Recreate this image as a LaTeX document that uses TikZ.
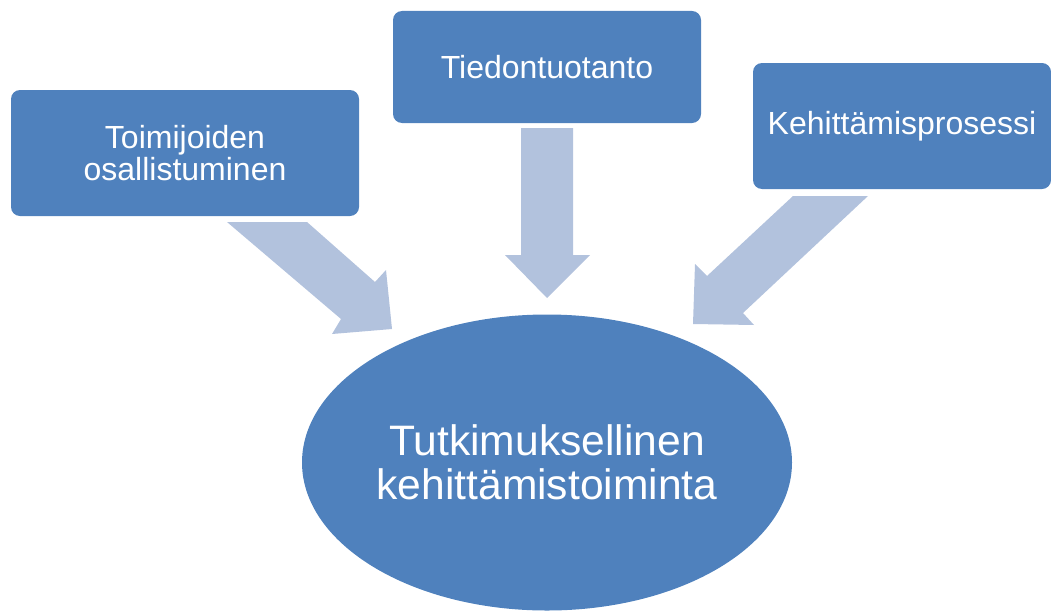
\documentclass[tikz,border=0pt]{standalone}
\usepackage{fontspec}
\setmainfont{Liberation Sans}
\usetikzlibrary{shapes.geometric}
\definecolor{boxblue}{HTML}{4F81BD}
\definecolor{arrowblue}{HTML}{B2C2DD}
\tikzset{
  topbox/.style={fill=boxblue, draw=none, rounded corners=9pt, inner sep=0pt,
    align=center, text=white, font=\fontsize{32}{32.5}\selectfont},
  centreoval/.style={ellipse, fill=boxblue, draw=none, inner sep=0pt,
    align=center, text=white, font=\fontsize{42.6}{44}\selectfont},
  blockarrow/.style={fill=arrowblue, draw=none}
}
\begin{document}
\begin{tikzpicture}[x=1pt, y=-1pt]
\useasboundingbox (0,0) rectangle (1051,610);
% top boxes
\node[topbox, minimum width=348pt, minimum height=126pt] (osal) at (185,153)
  {Toimijoiden\\osallistuminen};
\node[topbox, minimum width=308pt, minimum height=112pt] (tied) at (547,67)
  {Tiedontuotanto};
\node[topbox, minimum width=298pt, minimum height=126pt] (kehi) at (902,126)
  {Kehittämisprosessi};
% central ellipse
\node[centreoval, minimum width=490pt, minimum height=296pt] (tutk) at (547,462.5)
  {Tutkimuksellinen\\kehittämistoiminta};
% block arrows
\fill[blockarrow] (227,222) -- (307,222) -- (375,282) -- (386,270) -- (392,329)
  -- (332,334) -- (341,319) -- cycle;
\fill[blockarrow] (521,128) -- (573,128) -- (573,255) -- (590,255) -- (547,298)
  -- (505,255) -- (521,255) -- cycle;
\fill[blockarrow] (793,196) -- (868,196) -- (743,313) -- (754,325) -- (693,324)
  -- (695,264) -- (707,276) -- cycle;
\end{tikzpicture}
\end{document}
